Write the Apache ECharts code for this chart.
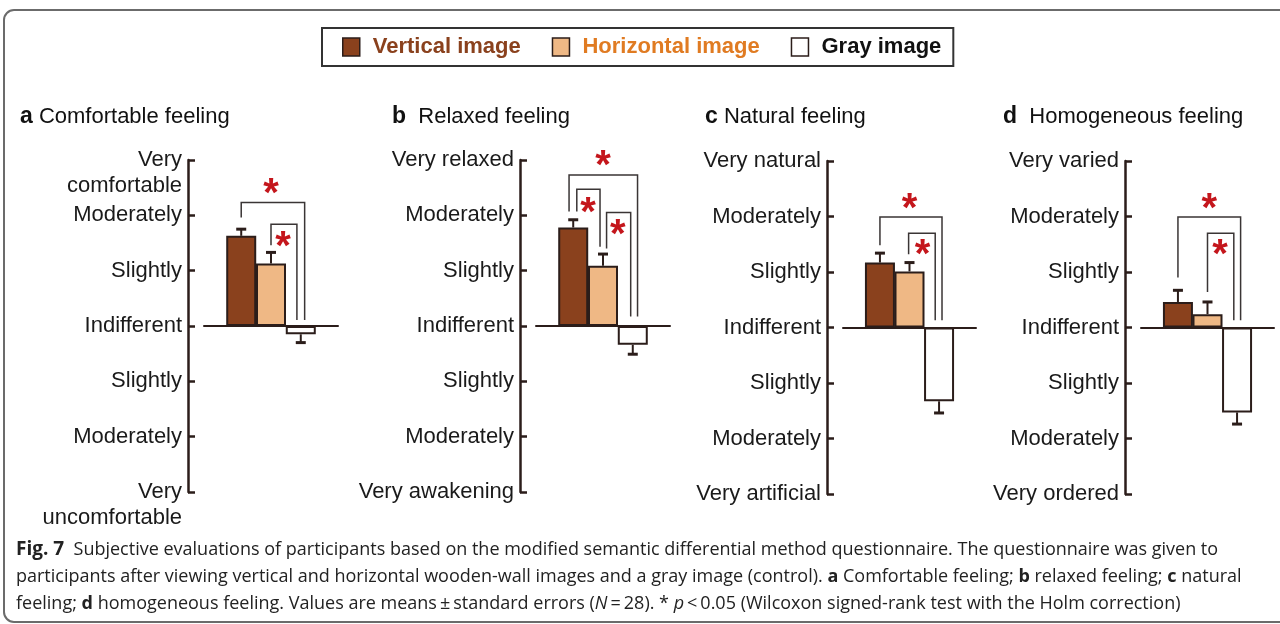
<!DOCTYPE html>
<html>
<head>
<meta charset="utf-8">
<script src="https://cdn.jsdelivr.net/npm/echarts@6/dist/echarts.min.js"></script>
<style>
  html, body { margin: 0; padding: 0; background: #fff; }
  #chart { width: 1280px; height: 624px; }
</style>
</head>
<body>
<div id="chart"></div>
<script>
// panels a-d
const panelLetters = ["a", "b", "c", "d"];
const panelTitles = ["Comfortable feeling", "Relaxed feeling", "Natural feeling", "Homogeneous feeling"];
const seriesNames = ["Vertical image", "Horizontal image", "Gray image"];

// tick labels from -3 to 3
const tickLabelsA = ["Very\nuncomfortable", "Moderately", "Slightly", "Indifferent", "Slightly", "Moderately", "Very\ncomfortable"];
const tickLabelsB = ["Very awakening", "Moderately", "Slightly", "Indifferent", "Slightly", "Moderately", "Very relaxed"];
const tickLabelsC = ["Very artificial", "Moderately", "Slightly", "Indifferent", "Slightly", "Moderately", "Very natural"];
const tickLabelsD = ["Very ordered", "Moderately", "Slightly", "Indifferent", "Slightly", "Moderately", "Very varied"];

// means and standard errors, one per panel
const verticalMean = [1.63, 1.78, 1.17, 0.46];
const verticalSE = [0.12, 0.14, 0.17, 0.21];
const horizontalMean = [1.13, 1.09, 1.01, 0.24];
const horizontalSE = [0.20, 0.21, 0.16, 0.22];
const grayMean = [-0.15, -0.34, -1.33, -1.53];
const graySE = [0.15, 0.17, 0.21, 0.21];
const barX = [0, 1, 2];

// significance brackets: [xLeft, yLeftEnd, xRight, yRightEnd, yTop]
const bracketsA = [[0, 1.96, 2.13, 0.11, 2.23], [1, 1.46, 1.87, 0.11, 1.84]];
const bracketsB = [[-0.14, 2.07, 2.16, 0.17, 2.73], [0.12, 2.07, 0.9, 1.43, 2.47], [1.12, 1.40, 1.93, 0.17, 2.05]];
const bracketsC = [[0, 1.48, 2.1, 0.13, 1.99], [0.97, 1.32, 1.87, 0.13, 1.70]];
const bracketsD = [[0, 0.90, 2.12, 0.13, 1.99], [1.0, 0.64, 1.89, 0.13, 1.70]];
// asterisks: [x, y]
const starsA = [[1.0, 2.56], [1.4, 1.61]];
const starsB = [[1.0, 3.08], [0.5, 2.23], [1.5, 1.83]];
const starsC = [[1.0, 2.32], [1.44, 1.48]];
const starsD = [[1.06, 2.32], [1.42, 1.48]];

const tickLabels = [tickLabelsA, tickLabelsB, tickLabelsC, tickLabelsD];
const brackets = [bracketsA, bracketsB, bracketsC, bracketsD];
const stars = [starsA, starsB, starsC, starsD];

const ink = "#2b1d1a";
const barColors = ["#8a411d", "#efb885", "#ffffff"];
const legendTextColors = ["#8a411d", "#e07b22", "#111111"];
const fontFamily = "'Liberation Sans', Arial, sans-serif";

const gridPos = [
  { left: 204, top: 160, width: 134, height: 332 },
  { left: 536, top: 160, width: 134, height: 332 },
  { left: 843, top: 161, width: 133, height: 333 },
  { left: 1141, top: 161, width: 133, height: 333 },
];
const titleLeft = [20, 392, 705, 1003];

let grid = [], xAxis = [], yAxis = [], series = [], title = [];

panelLetters.forEach((letter, p) => {
  grid.push(gridPos[p]);
  xAxis.push({
    gridIndex: p, type: "value", min: -1.25, max: 3.25,
    axisLine: { show: true, lineStyle: { color: ink, width: 2 } },
    axisTick: { show: false }, axisLabel: { show: false }, splitLine: { show: false },
  });
  yAxis.push({
    gridIndex: p, type: "value", min: -3, max: 3, interval: 1, offset: 16,
    axisLine: { show: true, onZero: false, lineStyle: { color: ink, width: 2.5 } },
    axisTick: { show: true, inside: true, length: 7, lineStyle: { color: ink, width: 2.5 } },
    splitLine: { show: false },
    axisLabel: {
      margin: 6, color: "#1a1a1a", fontSize: 22, fontFamily: fontFamily, lineHeight: 26,
      formatter: (v) => {
        const t = tickLabels[p][Math.round(v) + 3];
        return t.indexOf("\n") >= 0 ? " \n" + t : t;
      },
    },
  });
  title.push({
    left: titleLeft[p], top: 105, padding: 0,
    text: "{b|" + letter + "}" + (p === 1 || p === 3 ? "  " : " ") + "{n|" + panelTitles[p] + "}",
    textStyle: {
      fontWeight: "normal", fontSize: 22, fontFamily: fontFamily,
      rich: {
        b: { fontWeight: "bold", fontSize: 23, color: "#111", fontFamily: fontFamily },
        n: { fontWeight: "normal", fontSize: 22, color: "#111", fontFamily: fontFamily },
      },
    },
  });

  const means = [verticalMean[p], horizontalMean[p], grayMean[p]];
  const ses = [verticalSE[p], horizontalSE[p], graySE[p]];
  seriesNames.forEach((name, k) => {
    series.push({
      name: name, type: "bar", xAxisIndex: p, yAxisIndex: p,
      barWidth: 30, barGap: "-100%", z: 3,
      itemStyle: { color: barColors[k], borderColor: ink, borderWidth: 2 },
      data: [[barX[k], means[k]]],
    });
  });

  // error bars
  series.push({
    type: "custom", xAxisIndex: p, yAxisIndex: p, z: 2,
    data: barX.map((x, k) => [x, means[k], ses[k]]),
    renderItem: (params, api) => {
      const m = api.value(1), se = api.value(2);
      const end = m >= 0 ? m + se : m - se;
      const a = api.coord([api.value(0), m]);
      const b = api.coord([api.value(0), end]);
      return {
        type: "group",
        children: [
          { type: "line", shape: { x1: a[0], y1: a[1], x2: b[0], y2: b[1] }, style: { stroke: ink, lineWidth: 2 } },
          { type: "line", shape: { x1: b[0] - 5, y1: b[1], x2: b[0] + 5, y2: b[1] }, style: { stroke: ink, lineWidth: 3 } },
        ],
      };
    },
  });

  // brackets
  series.push({
    type: "custom", xAxisIndex: p, yAxisIndex: p, z: 4,
    data: brackets[p],
    renderItem: (params, api) => {
      const p1 = api.coord([api.value(0), api.value(1)]);
      const p2 = api.coord([api.value(0), api.value(4)]);
      const p3 = api.coord([api.value(2), api.value(4)]);
      const p4 = api.coord([api.value(2), api.value(3)]);
      return {
        type: "polyline",
        shape: { points: [p1, p2, p3, p4] },
        style: { stroke: "#3a3535", lineWidth: 1.5, fill: null },
      };
    },
  });

  // asterisks
  series.push({
    type: "custom", xAxisIndex: p, yAxisIndex: p, z: 5,
    data: stars[p],
    renderItem: (params, api) => {
      const c = api.coord([api.value(0), api.value(1)]);
      return {
        type: "text", x: c[0], y: c[1] + 11,
        style: { text: "*", fill: "#c4161c", font: "bold 40px 'Liberation Sans'", align: "center", verticalAlign: "middle" },
      };
    },
  });
});

const captionLines = [
  "{fb|Fig. 7}  Subjective evaluations of participants based on the modified semantic differential method questionnaire. The questionnaire was given to",
  "participants after viewing vertical and horizontal wooden-wall images and a gray image (control). {b|a} Comfortable feeling; {b|b} relaxed feeling; {b|c} natural",
  "feeling; {b|d} homogeneous feeling. Values are means\u2009\u00b1\u2009standard errors ({i|N}\u2009=\u200928). * {i|p}\u2009<\u20090.05 (Wilcoxon signed-rank test with the Holm correction)",
];

const chart = echarts.init(document.getElementById("chart"));
chart.setOption({
  backgroundColor: "#fff",
  animation: false,
  title: title,
  legend: {
    top: 28, left: 322,
    padding: [8, 12, 8, 20],
    borderColor: "#333", borderWidth: 2,
    itemWidth: 17, itemHeight: 18, itemGap: 31,
    icon: "rect",
    data: seriesNames.map((n, k) => ({
      name: n,
      itemStyle: { color: barColors[k], borderColor: ink, borderWidth: 1.5 },
      textStyle: { color: legendTextColors[k], fontWeight: "bold", fontSize: 22, fontFamily: fontFamily, padding: [0, 0, 0, 8] },
    })),
  },
  grid: grid,
  xAxis: xAxis,
  yAxis: yAxis,
  series: series,
  graphic: [
    {
      type: "rect", z: -1, silent: true,
      shape: { x: 4, y: 10, width: 1400, height: 612, r: 10 },
      style: { fill: null, stroke: "#6b6b6b", lineWidth: 2 },
    },
    {
      type: "text", left: 16, top: 536,
      style: {
        text: captionLines.join("\n"),
        font: "18px 'Open Sans'", fill: "#222", lineHeight: 27,
        rich: {
          fb: { fontWeight: "bold", fontSize: 19, fontFamily: "Open Sans", fill: "#222", lineHeight: 27 },
          b: { fontWeight: "bold", fontSize: 18, fontFamily: "Open Sans", fill: "#222", lineHeight: 27 },
          i: { fontStyle: "italic", fontSize: 18, fontFamily: "Open Sans", fill: "#222", lineHeight: 27 },
        },
      },
    },
  ],
});
</script>
</body>
</html>
